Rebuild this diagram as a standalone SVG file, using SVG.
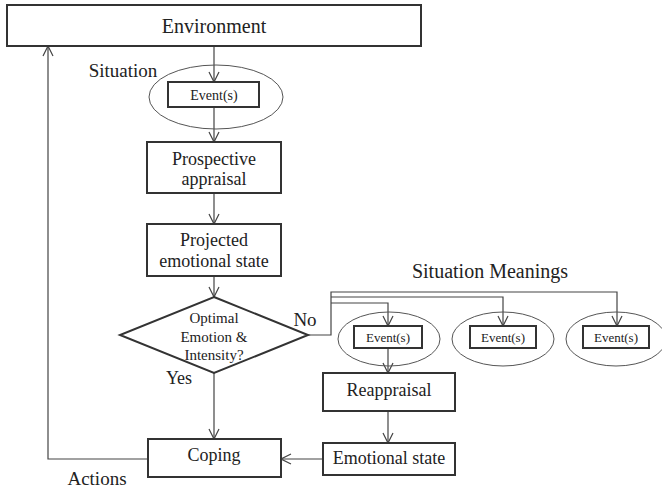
<svg xmlns="http://www.w3.org/2000/svg" width="662" height="491" viewBox="0 0 662 491">
<defs>
<style>
.box{fill:#fff;stroke:#333;stroke-width:2}
.ell{fill:none;stroke:#555;stroke-width:1}
.ln{fill:none;stroke:#444;stroke-width:1.2}
text{font-family:"Liberation Serif","Times New Roman",serif;fill:#222;text-anchor:middle}
.t18{font-size:18px}
.t13{font-size:13px}
.t15{font-size:15px}
</style>
<marker id="arr" viewBox="0 0 12 12" refX="11" refY="6" markerWidth="12" markerHeight="12" markerUnits="userSpaceOnUse" orient="auto">
<path d="M1,1 L11,6 L1,11" fill="none" stroke="#444" stroke-width="1.2"/>
</marker>
</defs>
<rect width="662" height="491" fill="#fff"/>
<g id="connectors">
<line class="ln" x1="214" y1="46" x2="214" y2="82" marker-end="url(#arr)"/>
<line class="ln" x1="214" y1="107" x2="214" y2="142" marker-end="url(#arr)"/>
<line class="ln" x1="214" y1="193" x2="214" y2="224" marker-end="url(#arr)"/>
<line class="ln" x1="214" y1="276" x2="214" y2="297" marker-end="url(#arr)"/>
<line class="ln" x1="214" y1="373" x2="214" y2="439" marker-end="url(#arr)"/>
<polyline class="ln" points="308,335 331,335 331,292 617,292 617,326" marker-end="url(#arr)"/>
<polyline class="ln" points="331,297 503,297 503,326" marker-end="url(#arr)"/>
<polyline class="ln" points="331,303 388,303 388,326" marker-end="url(#arr)"/>
<line class="ln" x1="388" y1="348" x2="388" y2="373" marker-end="url(#arr)"/>
<line class="ln" x1="388" y1="411" x2="388" y2="443" marker-end="url(#arr)"/>
<line class="ln" x1="323" y1="459" x2="281" y2="459" marker-end="url(#arr)"/>
<polyline class="ln" points="148,459 48,459 48,46" marker-end="url(#arr)"/>
</g>
<g id="environment">
<rect class="box" x="7" y="5" width="414" height="41"/>
<text x="214" y="33" style="font-size:20px">Environment</text>
</g>
<g id="situation">
<text x="123" y="77" style="font-size:19px">Situation</text>
<ellipse class="ell" cx="216" cy="97" rx="67" ry="32"/>
<rect class="box" x="168" y="82" width="91" height="25"/>
<text x="214" y="100" class="t13" style="font-size:14px">Event(s)</text>
</g>
<g id="prospective">
<rect class="box" x="147" y="142" width="134" height="51"/>
<text x="214" y="165" class="t18">Prospective</text>
<text x="214" y="185" class="t18">appraisal</text>
</g>
<g id="projected">
<rect class="box" x="147" y="224" width="134" height="52"/>
<text x="214" y="246" class="t18">Projected</text>
<text x="214" y="267" class="t18">emotional state</text>
</g>
<g id="decision">
<polygon class="box" points="214,297 308,335 214,373 120,335"/>
<text x="214" y="323" class="t15">Optimal</text>
<text x="214" y="342" class="t15">Emotion &amp;</text>
<text x="214" y="360" class="t15">Intensity?</text>
<text x="305" y="326" style="font-size:19px">No</text>
<text x="179" y="384" class="t18">Yes</text>
</g>
<g id="meanings">
<text x="490" y="278" style="font-size:20px">Situation Meanings</text>
</g>
<g id="event1">
<ellipse class="ell" cx="389" cy="339" rx="51" ry="27"/>
<rect class="box" x="354" y="326" width="68" height="22"/>
<text x="388" y="342" class="t13">Event(s)</text>
</g>
<g id="event2">
<ellipse class="ell" cx="503" cy="339" rx="51" ry="27"/>
<rect class="box" x="470" y="326" width="66" height="22"/>
<text x="503" y="342" class="t13">Event(s)</text>
</g>
<g id="event3">
<ellipse class="ell" cx="616" cy="339" rx="50" ry="27"/>
<rect class="box" x="583" y="326" width="66" height="22"/>
<text x="616" y="342" class="t13">Event(s)</text>
</g>
<g id="reappraisal">
<rect class="box" x="323" y="373" width="132" height="38"/>
<text x="389" y="396" class="t18">Reappraisal</text>
</g>
<g id="emotional-state">
<rect class="box" x="323" y="443" width="132" height="32"/>
<text x="389" y="464" class="t18">Emotional state</text>
</g>
<g id="coping">
<rect class="box" x="148" y="439" width="133" height="38"/>
<text x="214" y="461" class="t18">Coping</text>
</g>
<g id="actions">
<text x="97" y="485" style="font-size:19px">Actions</text>
</g>
</svg>
